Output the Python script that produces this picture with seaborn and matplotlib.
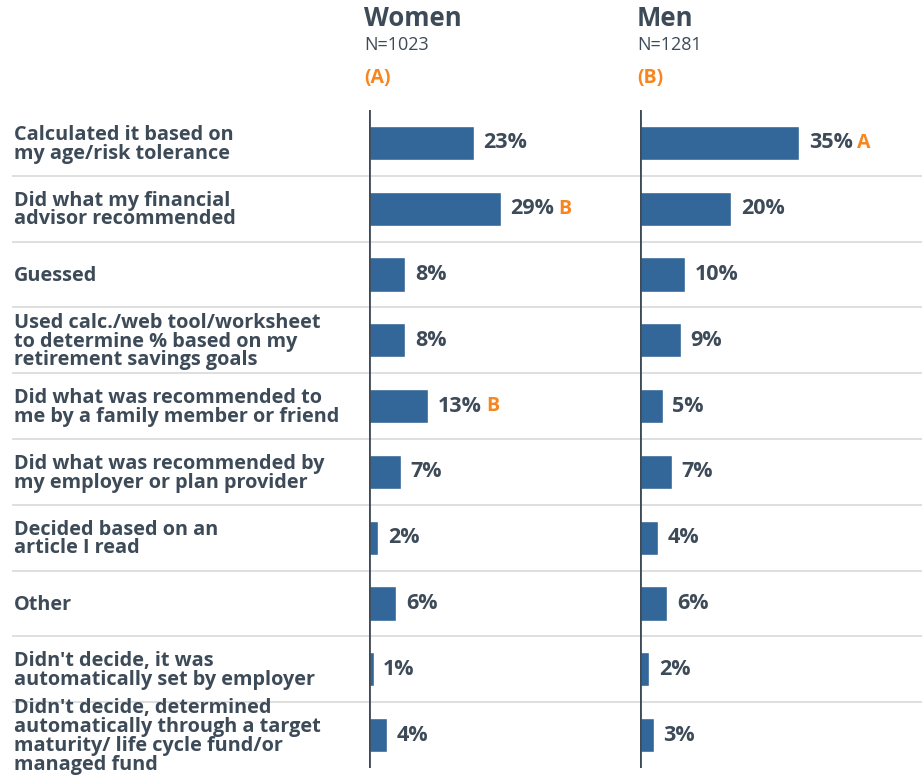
import matplotlib
matplotlib.use("Agg")
import matplotlib.pyplot as plt
import seaborn as sns
import pandas as pd

sns.set_theme(style="white")
plt.rcParams['font.family'] = ['Open Sans', 'DejaVu Sans']

# data
categories = [
    "Calculated it based on\nmy age/risk tolerance",
    "Did what my financial\nadvisor recommended",
    "Guessed",
    "Used calc./web tool/worksheet\nto determine % based on my\nretirement savings goals",
    "Did what was recommended to\nme by a family member or friend",
    "Did what was recommended by\nmy employer or plan provider",
    "Decided based on an\narticle I read",
    "Other",
    "Didn't decide, it was\nautomatically set by employer",
    "Didn't decide, determined\nautomatically through a target\nmaturity/ life cycle fund/or\nmanaged fund",
]
women = [23, 29, 8, 8, 13, 7, 2, 6, 1, 4]
men = [35, 20, 10, 9, 5, 7, 4, 6, 2, 3]
women_sig = ["", "B", "", "", "B", "", "", "", "", ""]
men_sig = ["A", "", "", "", "", "", "", "", "", ""]
groups = ["Women", "Men"]
group_n = ["N=1023", "N=1281"]
group_code = ["(A)", "(B)"]

BAR = "#336699"
TXT = "#3d4a58"
ORANGE = "#f7861f"
GRID = "#d9d9d9"

W, H = 922, 784
fig = plt.figure(figsize=(W / 100, H / 100), dpi=100)

def px_axes(x0, x1, y0, y1):
    return fig.add_axes([x0 / W, 1 - y1 / H, (x1 - x0) / W, (y1 - y0) / H])

top, bottom = 110, 768
n = len(categories)
ax_lab = px_axes(12, 369, top, bottom)
ax_w = px_axes(369, 640, top, bottom)
ax_m = px_axes(640, 922, top, bottom)

# label panel
ax_lab.set_xlim(0, 1)
ax_lab.set_ylim(n - 0.5, -0.5)
for i, c in enumerate(categories):
    ax_lab.text(0.006, i + 0.02, c, ha="left", va="center", fontsize=14.3,
                fontweight="bold", color=TXT, linespacing=0.92)
ax_lab.axis("off")
for b in range(1, n):
    ax_lab.axhline(b - 0.5, color=GRID, lw=1.2)

df = pd.DataFrame({"cat": categories, "Women": women, "Men": men})

for ax, g, sig, xmax in [(ax_w, "Women", women_sig, 59.6), (ax_m, "Men", men_sig, 62)]:
    sns.barplot(data=df, y="cat", x=g, order=categories, orient="h",
                color=BAR, width=0.52, saturation=1, ax=ax)
    ax.set_xlim(0, xmax)
    ax.set_ylim(n - 0.5, -0.5)
    for b in range(1, n):
        ax.axhline(b - 0.5, color=GRID, lw=1.2, zorder=0)
    for i, v in enumerate(df[g]):
        t = ax.annotate(f"{v}%", xy=(v, i), xytext=(7, 0), textcoords="offset points",
                        ha="left", va="center", fontsize=15.5, fontweight="bold", color=TXT)
        if sig[i]:
            ax.annotate(sig[i], xy=(1, 0.5), xycoords=t, xytext=(3, 0),
                        textcoords="offset points", ha="left", va="center",
                        fontsize=14, fontweight="bold", color=ORANGE)
    ax.axvline(0, color=TXT, lw=2)
    ax.set_xlabel("")
    ax.set_ylabel("")
    ax.set_xticks([])
    ax.set_yticks([])
    sns.despine(ax=ax, left=True, bottom=True)

# headers
for x, g, nn, code in [(364, groups[0], group_n[0], group_code[0]),
                       (637, groups[1], group_n[1], group_code[1])]:
    fig.text(x / W, 1 - 19 / H, g, ha="left", va="center", fontsize=18.5,
             fontweight="bold", color=TXT)
    fig.text(x / W, 1 - 45 / H, nn, ha="left", va="center", fontsize=13, color=TXT)
    fig.text(x / W, 1 - 78 / H, code, ha="left", va="center", fontsize=14,
             fontweight="bold", color=ORANGE)

fig.savefig("out.png", dpi=100, facecolor="white")
